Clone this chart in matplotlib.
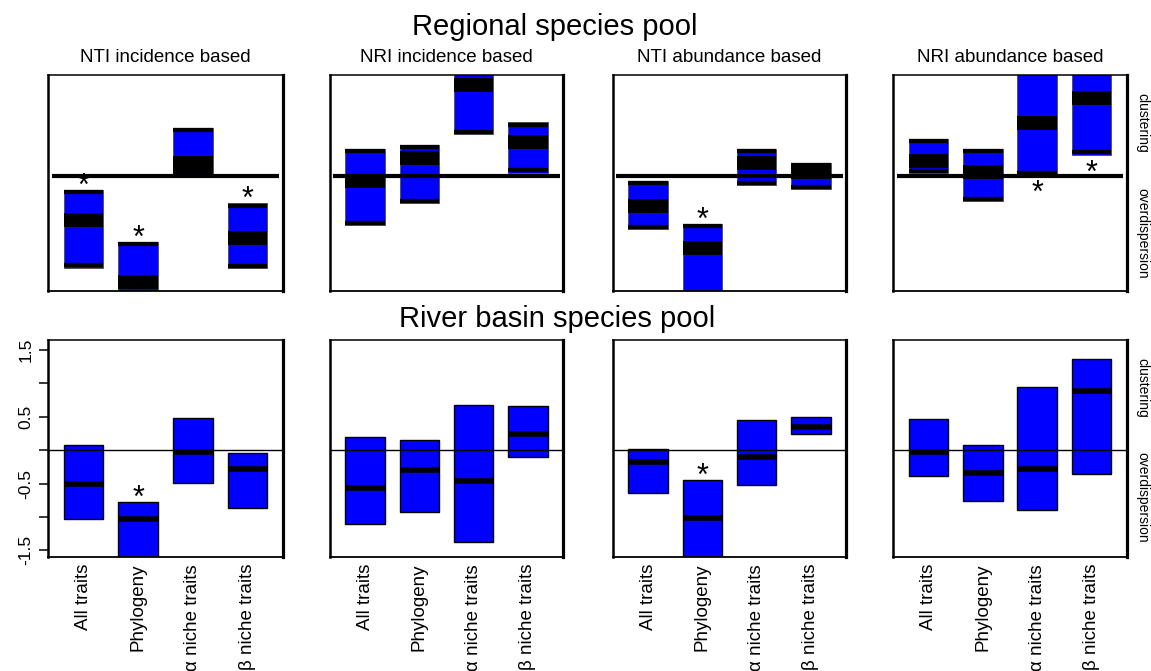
import matplotlib
matplotlib.use("Agg")
import matplotlib.pyplot as plt
from matplotlib.patches import Rectangle

plt.rcParams['font.family'] = ['Liberation Sans', 'DejaVu Sans']

groups = ["All traits", "Phylogeny", "α niche traits", "β niche traits"]
titles = ["NTI incidence based", "NRI incidence based",
          "NTI abundance based", "NRI abundance based"]

# regional species pool (top row): lower, median, upper of each box
reg_lo = [[-1.37, -1.80, 0.03, -1.38],
          [-0.74, -0.40, 0.63, 0.05],
          [-0.79, -1.80, -0.13, -0.19],
          [0.04, -0.37, 0.02, 0.32]]
reg_med = [[-0.66, -1.59, 0.20, -0.92],
           [-0.07, 0.27, 1.36, 0.51],
           [-0.45, -1.08, 0.19, 0.06],
           [0.23, 0.06, 0.79, 1.16]]
reg_hi = [[-0.21, -0.98, 0.72, -0.41],
          [0.40, 0.46, 1.70, 0.80],
          [-0.08, -0.72, 0.40, 0.20],
          [0.56, 0.41, 1.70, 1.70]]
# significant boxes: (panel, box, 'up' above top / 'down' below bottom)
reg_stars = [(0, 0, 'up'), (0, 1, 'up'), (0, 3, 'up'), (2, 1, 'up'),
             (3, 2, 'down'), (3, 3, 'down')]

# river basin species pool (bottom row)
riv_lo = [[-1.03, -1.80, -0.49, -0.86],
          [-1.11, -0.93, -1.37, -0.10],
          [-0.64, -1.80, -0.52, 0.24],
          [-0.38, -0.76, -0.89, -0.35]]
riv_med = [[-0.50, -1.03, -0.02, -0.28],
           [-0.56, -0.29, -0.46, 0.24],
           [-0.18, -1.01, -0.10, 0.34],
           [-0.03, -0.34, -0.28, 0.89]]
riv_hi = [[0.08, -0.77, 0.48, -0.04],
          [0.20, 0.15, 0.68, 0.66],
          [0.02, -0.44, 0.45, 0.49],
          [0.46, 0.07, 0.95, 1.37]]
riv_stars = [(0, 1, 'up'), (2, 1, 'up')]

yticks = [-1.5, -1.0, -0.5, 0.0, 0.5, 1.0, 1.5]
ytick_labels = ["-1.5", "", "-0.5", "", "0.5", "", "1.5"]

W, H = 1151, 671
fig = plt.figure(figsize=(W / 100, H / 100), dpi=100)

cols_px = [(48, 283), (330, 563), (613, 846), (893, 1127)]
rows_px = [(75, 291), (340, 557)]
BLUE = '#0000ff'
bw = 0.73


def add_ax(col, row):
    x0, x1 = cols_px[col]
    y0, y1 = rows_px[row]
    return fig.add_axes([x0 / W, 1 - y1 / H, (x1 - x0) / W, (y1 - y0) / H])


def draw_panel(ax, lo, med, hi, stars, top_row):
    for i in range(4):
        x = i + 1
        l, m, h = lo[i], med[i], hi[i]
        if top_row:
            ax.add_patch(Rectangle((x - bw / 2, l), bw, h - l, facecolor=BLUE,
                                   edgecolor='#555555', lw=0.7, zorder=2))
            band = 0.032
            ax.hlines([h - band, l + band], x - bw / 2, x + bw / 2, colors='k',
                      lw=3.1, capstyle='butt', zorder=3)
            ax.hlines(m, x - bw / 2, x + bw / 2, colors='k', lw=10,
                      capstyle='butt', zorder=3)
        else:
            ax.add_patch(Rectangle((x - bw / 2, l), bw, h - l, facecolor=BLUE,
                                   edgecolor='k', lw=1.0, zorder=2))
            ax.hlines(m, x - bw / 2, x + bw / 2, colors='k', lw=4,
                      capstyle='butt', zorder=3)
    if top_row:
        ax.axhline(0, xmin=0.015, xmax=0.985, color='k', lw=3,
                   solid_capstyle='butt', zorder=4)
    else:
        ax.axhline(0, color='k', lw=1.0, zorder=4)
    for b, where in stars:
        if where == 'up':
            ax.annotate('*', xy=(b + 1, hi[b]), xytext=(0, -3.6),
                        textcoords='offset points', ha='center', va='baseline',
                        fontsize=22, zorder=5)
        else:
            ax.annotate('*', xy=(b + 1, lo[b]), xytext=(0, -19.5),
                        textcoords='offset points', ha='center', va='baseline',
                        fontsize=22, zorder=5)
    ax.set_xlim(0.35, 4.65)
    for side in ['left', 'right', 'top', 'bottom']:
        ax.spines[side].set_zorder(6)
    ax.spines['left'].set_linewidth(1.8)
    ax.spines['right'].set_linewidth(2.3)
    ax.spines['top'].set_linewidth(1.1)
    ax.spines['bottom'].set_linewidth(1.3)


for c in range(4):
    ax = add_ax(c, 0)
    st = [(b, w) for p, b, w in reg_stars if p == c]
    draw_panel(ax, reg_lo[c], reg_med[c], reg_hi[c], st, True)
    ax.set_ylim(-1.72, 1.51)
    ax.set_xticks([])
    ax.set_yticks([])
    ax.set_title(titles[c], fontsize=13.5, pad=9.4)

    ax = add_ax(c, 1)
    st = [(b, w) for p, b, w in riv_stars if p == c]
    draw_panel(ax, riv_lo[c], riv_med[c], riv_hi[c], st, False)
    ax.set_ylim(-1.6, 1.65)
    ax.set_xticks([1, 2, 3, 4])
    ax.set_xticklabels(groups, rotation=90, ha='center', va='top')
    ax.tick_params(axis='x', length=0, labelsize=13.5, pad=5)
    if c == 0:
        ax.set_yticks(yticks)
        ax.set_yticklabels(ytick_labels, rotation=90, va='center')
        ax.tick_params(axis='y', length=6.5, width=1.1, labelsize=12.5, pad=4)
    else:
        ax.set_yticks([])

fig.text(555 / W, 1 - 35 / H, "Regional species pool", ha='center',
         va='baseline', fontsize=21)
fig.text(557 / W, 1 - 327 / H, "River basin species pool", ha='center',
         va='baseline', fontsize=21)

for yc, txt in [(123, "clustering"), (233, "overdispersion"),
                (388, "clustering"), (497, "overdispersion")]:
    fig.text(1142 / W, 1 - yc / H, txt, rotation=-90, ha='center',
             va='center', fontsize=10)

fig.savefig("out.png", dpi=100)
